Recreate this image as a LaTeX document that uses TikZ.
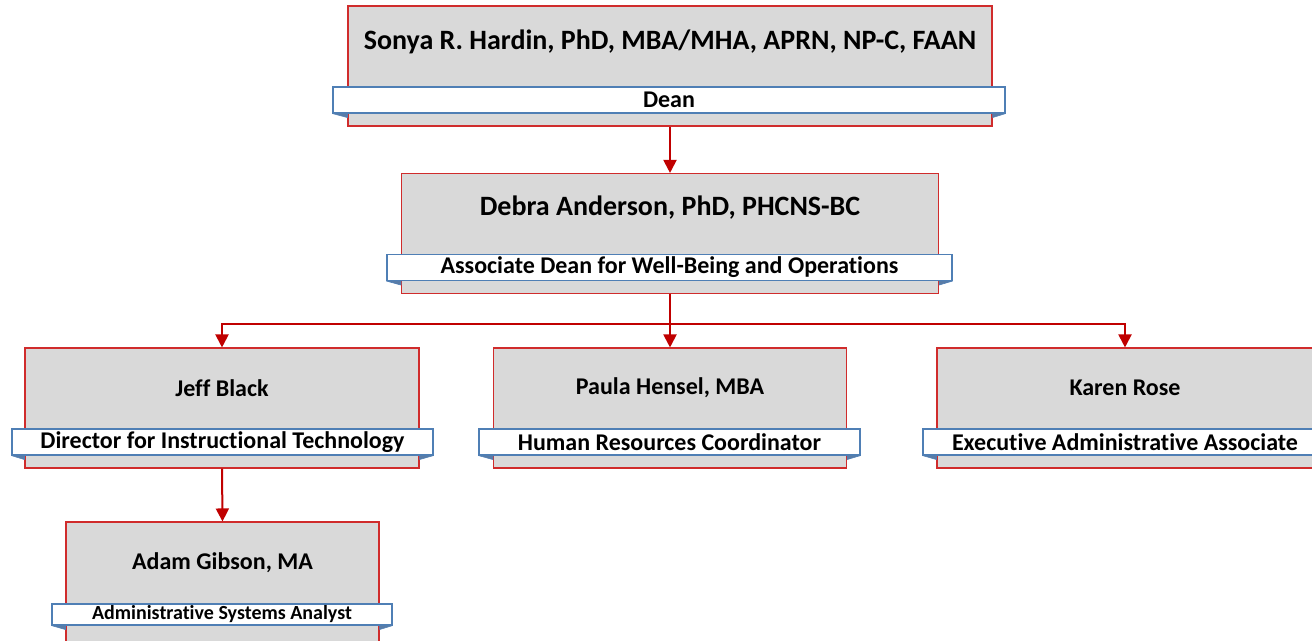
\documentclass[tikz,border=0pt]{standalone}
\usepackage{fontspec}
\setmainfont{Carlito}[Ligatures=NoCommon]
\usetikzlibrary{arrows.meta,calc}
\definecolor{boxfill}{HTML}{D9D9D9}
\definecolor{boxedge}{HTML}{D02C2C}
\definecolor{linkred}{HTML}{C00000}
\definecolor{tagedge}{HTML}{4F7FB5}
\definecolor{tagfold}{HTML}{5A7CA6}
\tikzset{
  unit/.style={rectangle, draw=boxedge, fill=boxfill, line width=1.1pt, inner sep=0pt, minimum height=120pt},
  tag/.style={rectangle, draw=tagedge, fill=white, line width=1.1pt, inner sep=0pt, minimum height=26pt,
    font=\bfseries\fontsize{24}{24}\selectfont},
  smalltag/.style={tag, minimum height=21pt, font=\bfseries\fontsize{20}{20}\selectfont},
  who/.style={inner sep=0pt, font=\bfseries\fontsize{24}{24}\selectfont},
  bigwho/.style={who, font=\bfseries\fontsize{28}{28}\selectfont},
  link/.style={draw=linkred, line width=2pt, -{Triangle[width=13pt,length=13pt]}, color=linkred},
  fold/.style={fill=tagfold, draw=tagedge, line width=0.6pt, line join=round}
}
\begin{document}
\begin{tikzpicture}[x=1pt,y=-1pt]
\path[use as bounding box] (0,0) rectangle (1312,640);
\clip (0,0) rectangle (1312,640);

% Dean
\node[unit, minimum width=644pt] (dean) at (670,66) {};
\node[bigwho] (deanname) at (670,42) {Sonya R. Hardin, PhD, MBA/MHA, APRN, NP-C, FAAN};
\node[tag, minimum width=672pt] (deantag) at (669,100) {Dean};
\fill[fold] (deantag.south west) -- (dean.west |- deantag.south) -- ++(0,4) -- cycle;
\fill[fold] (deantag.south east) -- (dean.east |- deantag.south) -- ++(0,4) -- cycle;

% Associate Dean
\node[unit, minimum width=537pt] (assoc) at (670,233.5) {};
\node[bigwho] (assocname) at (670,208) {Debra Anderson, PhD, PHCNS-BC};
\node[tag, minimum width=565pt] (assoctag) at (669.5,267.5) {Associate Dean for Well-Being and Operations};
\fill[fold] (assoctag.south west) -- (assoc.west |- assoctag.south) -- ++(0,4) -- cycle;
\fill[fold] (assoctag.south east) -- (assoc.east |- assoctag.south) -- ++(0,4) -- cycle;

% Director
\node[unit, minimum width=394pt] (jeff) at (222,408) {};
\node[who] (jeffname) at (222,388) {Jeff Black};
\node[tag, minimum width=421pt] (jefftag) at (222.5,442) {Director for Instructional Technology};
\fill[fold] (jefftag.south west) -- (jeff.west |- jefftag.south) -- ++(0,4) -- cycle;
\fill[fold] (jefftag.south east) -- (jeff.east |- jefftag.south) -- ++(0,4) -- cycle;

% Human resources
\node[unit, minimum width=353pt] (paula) at (670,408) {};
\node[who] (paulaname) at (670,388) {Paula Hensel, MBA};
\node[tag, minimum width=381pt] (paulatag) at (669.5,442) {Human Resources Coordinator};
\fill[fold] (paulatag.south west) -- (paula.west |- paulatag.south) -- ++(0,4) -- cycle;
\fill[fold] (paulatag.south east) -- (paula.east |- paulatag.south) -- ++(0,4) -- cycle;

% Executive associate
\node[unit, minimum width=376pt] (karen) at (1125,408) {};
\node[who] (karenname) at (1125,388) {Karen Rose};
\node[tag, minimum width=404pt] (karentag) at (1125,442) {Executive Administrative Associate};
\fill[fold] (karentag.south west) -- (karen.west |- karentag.south) -- ++(0,4) -- cycle;

% Systems analyst
\node[unit, minimum width=313pt] (adam) at (222.5,582) {};
\node[who] (adamname) at (222.5,563) {Adam Gibson, MA};
\node[smalltag, minimum width=340pt] (adamtag) at (222,614.5) {Administrative Systems Analyst};
\fill[fold] (adamtag.south west) -- (adam.west |- adamtag.south) -- ++(0,4) -- cycle;
\fill[fold] (adamtag.south east) -- (adam.east |- adamtag.south) -- ++(0,4) -- cycle;

% Reporting lines
\coordinate (bus) at (670,324);
\draw[link] (dean.south) -- (assoc.north);
\draw[link] (assoc.south) -- (paula.north);
\draw[link] (bus) -| (jeff.north);
\draw[link] (bus) -| (karen.north);
\draw[link] (jeff.south) -- (adam.north);
\end{tikzpicture}
\end{document}
